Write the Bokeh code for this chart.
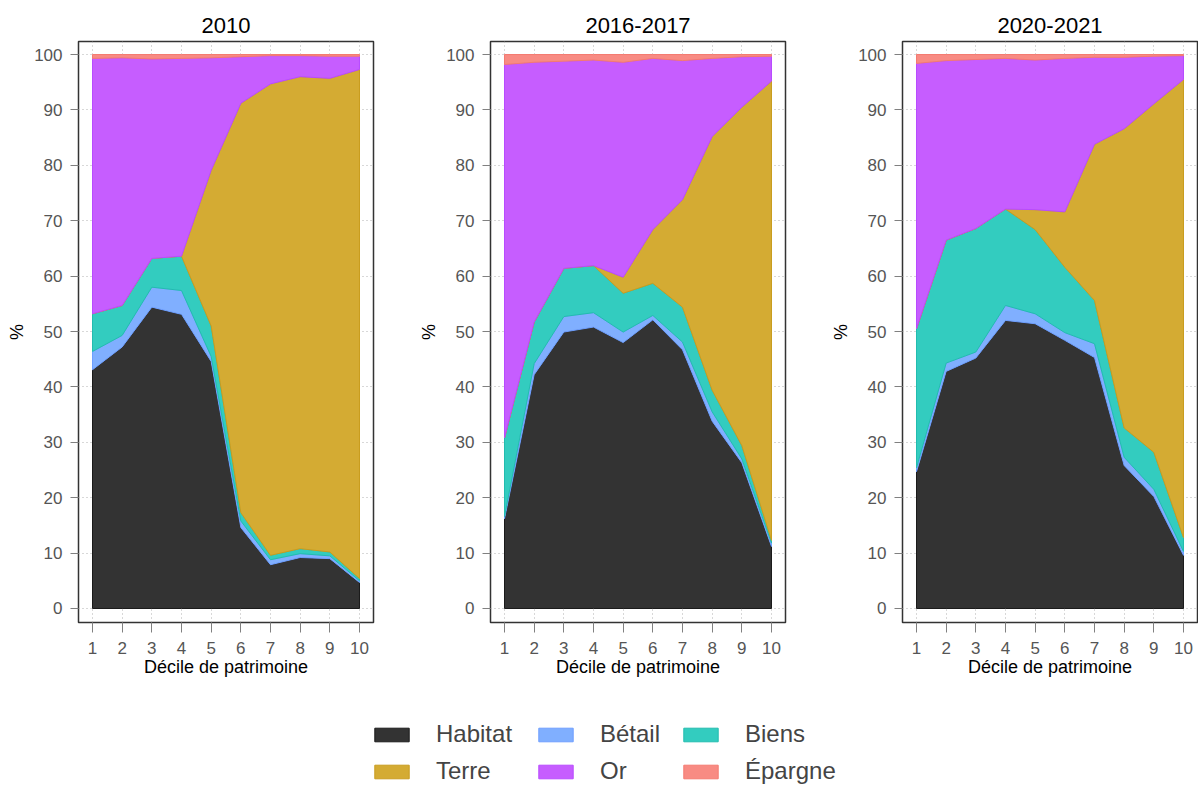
from bokeh.plotting import figure
from bokeh.layouts import column, row
from bokeh.models import Legend, LegendItem, FixedTicker, Range1d
from bokeh.embed import file_html
from bokeh.resources import INLINE

# ---------------- data ----------------
deciles = [1, 2, 3, 4, 5, 6, 7, 8, 9, 10]
y_ticks = [0, 10, 20, 30, 40, 50, 60, 70, 80, 90, 100]
panel_titles = ["2010", "2016-2017", "2020-2021"]
series_names = ["Habitat", "Bétail", "Biens", "Terre", "Or", "Épargne"]

habitat_2010 = [43.1, 47.2, 54.4, 53.1, 44.6, 14.6, 7.9, 9.2, 9.0, 4.7]
betail_2010 = [3.3, 2.1, 3.6, 4.3, 0.9, 1.2, 0.9, 0.7, 0.5, 0.3]
biens_2010 = [6.8, 5.4, 5.2, 6.2, 5.5, 1.5, 0.8, 0.9, 0.7, 0.4]
terre_2010 = [0.0, 0.0, 0.0, 0.0, 28.1, 73.9, 85.1, 85.2, 85.5, 91.9]
or_2010 = [46.1, 44.7, 36.0, 35.7, 20.3, 8.4, 5.1, 3.8, 4.0, 2.4]
epargne_2010 = [0.7, 0.6, 0.8, 0.7, 0.6, 0.4, 0.2, 0.2, 0.3, 0.3]

habitat_2016 = [16.2, 42.2, 49.9, 50.8, 48.0, 52.1, 46.7, 33.8, 26.3, 11.2]
betail_2016 = [0.4, 2.0, 2.8, 2.6, 1.9, 0.8, 1.4, 1.7, 0.7, 0.6]
biens_2016 = [14.2, 7.5, 8.7, 8.5, 7.0, 5.8, 6.3, 3.9, 2.4, 0.5]
terre_2016 = [0.0, 0.0, 0.0, 0.0, 2.9, 9.7, 19.4, 45.8, 61.1, 82.9]
or_2016 = [67.4, 46.9, 37.4, 37.1, 38.8, 30.9, 25.1, 14.1, 9.1, 4.5]
epargne_2016 = [1.8, 1.4, 1.2, 1.0, 1.4, 0.7, 1.1, 0.7, 0.4, 0.3]

habitat_2020 = [24.7, 42.8, 45.2, 52.0, 51.4, 48.4, 45.3, 25.8, 20.2, 9.6]
betail_2020 = [0.7, 1.5, 1.1, 2.7, 1.8, 1.4, 2.5, 1.5, 1.3, 0.7]
biens_2020 = [25.1, 22.2, 22.3, 17.4, 15.2, 11.8, 7.8, 5.3, 6.7, 2.5]
terre_2020 = [0.0, 0.0, 0.0, 0.0, 3.6, 10.0, 28.2, 54.0, 62.9, 82.7]
or_2020 = [47.9, 32.4, 30.5, 27.2, 27.0, 27.7, 15.7, 12.9, 8.6, 4.3]
epargne_2020 = [1.6, 1.1, 0.9, 0.7, 1.0, 0.7, 0.5, 0.5, 0.3, 0.2]

panels_data = [
    [habitat_2010, betail_2010, biens_2010, terre_2010, or_2010, epargne_2010],
    [habitat_2016, betail_2016, biens_2016, terre_2016, or_2016, epargne_2016],
    [habitat_2020, betail_2020, biens_2020, terre_2020, or_2020, epargne_2020],
]

# ---------------- style ----------------
FONT = "Liberation Sans"
fills = ["#333333", "#80AFFF", "#33CCBF", "#D4AB33", "#C65DFF", "#F88B83"]
lines = ["#1A1A1A", "#6E9FFF", "#22BCAF", "#C99C1E", "#B84BFF", "#F47A70"]

FRAME_W = 295
FRAME_H = 581
right_borders = [39, 39, 1]


def band_polygons(data):
    """Stack the series and return (xs, ys) polygons for each band."""
    polys = []
    bottom = [0.0] * len(deciles)
    for vals in data:
        top = [b + v for b, v in zip(bottom, vals)]
        polys.append((deciles + deciles[::-1], top + bottom[::-1]))
        bottom = top
    return polys


def make_panel(title, data, right_border):
    p = figure(
        x_range=Range1d(0.528, 10.472),
        y_range=Range1d(-2.53, 102.35),
        output_backend="svg",
        toolbar_location=None,
        min_border_right=right_border,
        min_border_top=41,
        title=title,
        margin=(0, 0, 0, 4),
    )
    p.frame_width = FRAME_W
    p.frame_height = FRAME_H
    p.background_fill_color = "white"
    p.border_fill_color = "white"
    p.outline_line_color = "#333333"
    p.outline_line_width = 1.5

    p.title.text_font = FONT
    p.title.text_font_size = "22px"
    p.title.text_font_style = "normal"
    p.title.text_color = "#000000"
    p.title.align = "center"
    p.title.standoff = 17

    for k, (xs, ys) in enumerate(band_polygons(data)):
        p.patch(xs, ys, fill_color=fills[k], line_color=lines[k], line_width=1,
                line_join="round")

    for ax in (p.xaxis, p.yaxis):
        ax.axis_line_color = None
        ax.major_tick_in = 0
        ax.minor_tick_line_color = None
        ax.major_tick_line_color = "#808080"
        ax.major_tick_line_width = 1
        ax.major_label_text_font = FONT
        ax.major_label_text_font_size = "17px"
        ax.major_label_text_color = "#555555"
        ax.axis_label_text_font = FONT
        ax.axis_label_text_font_size = "18px"
        ax.axis_label_text_font_style = "normal"
        ax.axis_label_text_color = "#000000"

    p.xaxis.ticker = FixedTicker(ticks=deciles)
    p.xaxis.major_tick_out = 10
    p.xaxis.major_label_standoff = 9
    p.xaxis.axis_label = "Décile de patrimoine"
    p.xaxis.axis_label_standoff = 0

    p.yaxis.ticker = FixedTicker(ticks=y_ticks)
    p.yaxis.major_tick_out = 8
    p.yaxis.major_label_standoff = 8
    p.yaxis.axis_label = "%"
    p.yaxis.axis_label_standoff = 4

    p.xgrid.ticker = FixedTicker(ticks=deciles)
    p.ygrid.ticker = FixedTicker(ticks=y_ticks)
    p.grid.grid_line_color = "#B0B0B0"
    p.grid.grid_line_dash = "1 3"
    p.grid.grid_line_width = 1
    return p


panels = [make_panel(t, d, rb) for t, d, rb in zip(panel_titles, panels_data, right_borders)]

# ---------------- legend ----------------
LEG_W = 1200
LEG_H = 106
leg = figure(
    width=LEG_W, height=LEG_H,
    x_range=Range1d(-200, -199), y_range=Range1d(-200, -199),
    output_backend="svg", toolbar_location=None,
    x_axis_location=None, y_axis_location=None,
    min_border=0, min_border_left=0, min_border_right=0,
    min_border_top=0, min_border_bottom=0,
)
leg.outline_line_color = None
leg.grid.visible = False
leg.background_fill_color = "white"
leg.border_fill_color = "white"

# legend carriers: the first panel's bands, kept out of view
carriers = []
for k, (xs, ys) in enumerate(band_polygons(panels_data[0])):
    r = leg.patch(xs, ys, fill_color=fills[k], line_color=lines[k], line_width=1)
    r.visible = False
    carriers.append(r)

col_x = [370, 534, 679]
for c in range(3):
    items = [LegendItem(label=series_names[c], renderers=[carriers[c]]),
             LegendItem(label=series_names[c + 3], renderers=[carriers[c + 3]])]
    lg = Legend(items=items, location=(col_x[c], 0), orientation="vertical",
                glyph_width=43, glyph_height=17, label_standoff=23,
                label_text_font=FONT, label_text_font_size="24px",
                label_height=26, spacing=9, padding=0, margin=0,
                inactive_fill_alpha=0,
                background_fill_alpha=0, border_line_color=None)
    leg.add_layout(lg, "center")

layout = column(row(*panels), leg)
open("out.html", "w").write(file_html(layout, INLINE))
